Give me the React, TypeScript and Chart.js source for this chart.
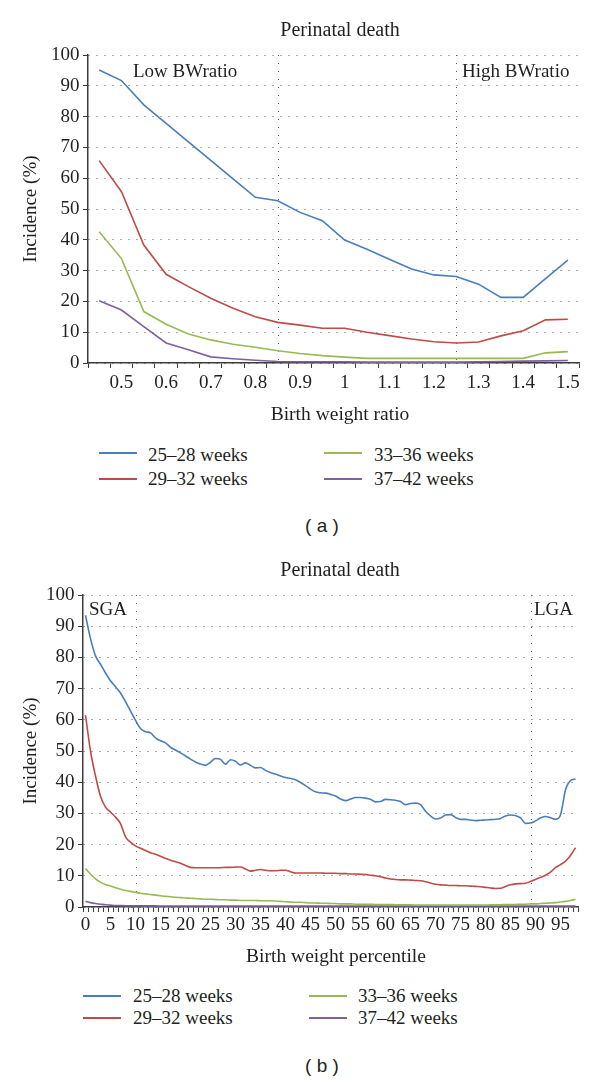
import React, { useEffect, useRef } from "react";
import { Chart, registerables } from "chart.js";

Chart.register(...registerables);

// ---------- data ----------
const seriesNames = ["25–28 weeks", "29–32 weeks", "33–36 weeks", "37–42 weeks"];
const seriesColors = ["#4a7ebb", "#be4b48", "#98b954", "#7d60a0"];

// (a) birth weight ratio
const ratioLabels = ["0.45", "0.5", "0.55", "0.6", "0.65", "0.7", "0.75", "0.8", "0.85", "0.9", "0.95", "1", "1.05", "1.1", "1.15", "1.2", "1.25", "1.3", "1.35", "1.4", "1.45", "1.5"];
const ratioWeeks25to28 = [95.1, 91.7, 83.8, 77.8, 71.8, 65.8, 59.8, 53.8, 52.7, 48.9, 46.2, 39.9, 36.9, 33.7, 30.5, 28.6, 28.1, 25.6, 21.3, 21.3, 27.4, 33.4];
const ratioWeeks29to32 = [65.7, 55.6, 38.3, 28.8, 24.8, 21.0, 17.8, 15.0, 13.2, 12.3, 11.3, 11.3, 10.0, 8.9, 7.8, 6.9, 6.5, 6.8, 8.8, 10.5, 14.0, 14.2];
const ratioWeeks33to36 = [42.6, 33.9, 16.7, 12.6, 9.4, 7.5, 6.1, 5.1, 4.0, 3.1, 2.4, 1.9, 1.5, 1.5, 1.5, 1.5, 1.5, 1.5, 1.5, 1.5, 3.3, 3.7];
const ratioWeeks37to42 = [20.2, 17.2, 11.8, 6.5, 4.3, 2.0, 1.4, 0.9, 0.5, 0.4, 0.4, 0.4, 0.3, 0.3, 0.3, 0.3, 0.3, 0.4, 0.5, 0.6, 0.7, 0.8];
const ratioTickLabels = ["0.5", "0.6", "0.7", "0.8", "0.9", "1", "1.1", "1.2", "1.3", "1.4", "1.5"];
const ratioMarkers = ["0.85", "1.25"];

// (b) birth weight percentile
const percentileLabels = [
  "0", "1", "2", "3", "4", "5", "6", "7", "8", "9",
  "10", "11", "12", "13", "14", "15", "16", "17", "18", "19",
  "20", "21", "22", "23", "24", "25", "26", "27", "28", "29",
  "30", "31", "32", "33", "34", "35", "36", "37", "38", "39",
  "40", "41", "42", "43", "44", "45", "46", "47", "48", "49",
  "50", "51", "52", "53", "54", "55", "56", "57", "58", "59",
  "60", "61", "62", "63", "64", "65", "66", "67", "68", "69",
  "70", "71", "72", "73", "74", "75", "76", "77", "78", "79",
  "80", "81", "82", "83", "84", "85", "86", "87", "88", "89",
  "90", "91", "92", "93", "94", "95", "96", "97", "98",
];
const pctWeeks25to28 = [
  93.5, 86, 80.5, 77.8, 75, 72.5, 70.6, 68.6, 65.8, 62.8,
  59.8, 57.2, 56.2, 55.8, 54.2, 53.3, 52.6, 51.2, 50.3, 49.4,
  48.4, 47.4, 46.5, 45.8, 45.4, 46.4, 47.6, 47.3, 45.8, 47.2,
  46.7, 45.5, 46.2, 45.4, 44.6, 44.7, 43.8, 43.1, 42.6, 42,
  41.5, 41.2, 40.8, 39.9, 38.9, 37.8, 36.9, 36.6, 36.5, 36.1,
  35.6, 34.6, 34.1, 34.6, 35.1, 35.1, 34.9, 34.5, 33.7, 33.8,
  34.5, 34.4, 34.2, 33.8, 32.8, 33.2, 33.3, 32.8, 30.7, 29.2,
  28.2, 28.5, 29.5, 29.6, 28.7, 28.1, 28.1, 27.9, 27.7, 27.8,
  27.9, 28, 28.1, 28.4, 29.2, 29.5, 29.3, 28.6, 26.8, 26.9,
  27.6, 28.5, 29, 28.6, 28.1, 29.5, 37.5, 40.5, 41,
];
const pctWeeks29to32 = [
  61.5, 50, 42, 35.5, 32, 30.4, 28.8, 26.7, 22.5, 20.8,
  19.6, 18.8, 18.1, 17.4, 16.9, 16.3, 15.6, 15, 14.5, 14,
  13.3, 12.7, 12.6, 12.6, 12.6, 12.6, 12.6, 12.6, 12.7, 12.7,
  12.8, 12.8, 12.2, 11.5, 11.8, 12, 11.8, 11.6, 11.6, 11.8,
  11.8, 11.3, 10.9, 10.9, 10.9, 10.9, 10.9, 10.9, 10.8, 10.8,
  10.8, 10.7, 10.7, 10.6, 10.6, 10.5, 10.4, 10.2, 10, 9.7,
  9.3, 9, 8.8, 8.7, 8.7, 8.6, 8.5, 8.4, 8.1, 7.7,
  7.3, 7.1, 7, 6.9, 6.9, 6.8, 6.8, 6.7, 6.6, 6.5,
  6.3, 6.1, 5.95, 6.0, 6.6, 7.1, 7.4, 7.5, 7.6, 8.2,
  8.8, 9.5, 10.2, 11.2, 12.6, 13.6, 14.7, 16.5, 19,
];
const pctWeeks33to36 = [
  12.3, 10.5, 9, 7.9, 7.2, 6.7, 6.2, 5.7, 5.3, 5,
  4.7, 4.4, 4.2, 4, 3.8, 3.6, 3.4, 3.3, 3.1, 3,
  2.9, 2.8, 2.7, 2.6, 2.5, 2.5, 2.4, 2.3, 2.3, 2.2,
  2.2, 2.1, 2.1, 2.1, 2.1, 2, 2, 2, 1.9, 1.8,
  1.7, 1.6, 1.5, 1.5, 1.4, 1.3, 1.3, 1.2, 1.2, 1.1,
  1.1, 1, 1, 1, 0.9, 0.9, 0.9, 0.9, 0.8, 0.8,
  0.8, 0.8, 0.7, 0.7, 0.7, 0.7, 0.6, 0.6, 0.6, 0.6,
  0.6, 0.6, 0.6, 0.6, 0.6, 0.6, 0.6, 0.6, 0.6, 0.6,
  0.6, 0.7, 0.7, 0.7, 0.8, 0.8, 0.8, 0.9, 0.9, 1,
  1, 1.1, 1.2, 1.3, 1.4, 1.6, 1.8, 2.1, 2.5,
];
const pctWeeks37to42 = [
  1.8, 1.4, 1.1, 0.9, 0.7, 0.6, 0.5, 0.5, 0.4, 0.4,
  0.4, 0.4, 0.35, 0.35, 0.35, 0.3, 0.3, 0.3, 0.3, 0.3,
  0.3, 0.3, 0.3, 0.3, 0.3, 0.3, 0.3, 0.3, 0.3, 0.3,
  0.3, 0.3, 0.3, 0.3, 0.3, 0.3, 0.3, 0.3, 0.3, 0.3,
  0.3, 0.3, 0.3, 0.3, 0.3, 0.3, 0.3, 0.3, 0.3, 0.3,
  0.3, 0.3, 0.3, 0.3, 0.3, 0.3, 0.3, 0.3, 0.3, 0.3,
  0.3, 0.3, 0.3, 0.3, 0.3, 0.3, 0.3, 0.3, 0.3, 0.3,
  0.3, 0.3, 0.3, 0.3, 0.3, 0.3, 0.3, 0.3, 0.3, 0.3,
  0.3, 0.3, 0.3, 0.3, 0.3, 0.3, 0.3, 0.3, 0.3, 0.3,
  0.3, 0.3, 0.3, 0.3, 0.3, 0.3, 0.3, 0.3, 0.3,
];
const percentileTickLabels = ["0", "5", "10", "15", "20", "25", "30", "35", "40", "45", "50", "55", "60", "65", "70", "75", "80", "85", "90", "95"];
const percentileMarkers = ["10", "89"];

const yTicks = [0, 10, 20, 30, 40, 50, 60, 70, 80, 90, 100];

// ---------- styling ----------
const SERIF = "'Liberation Serif', 'Times New Roman', serif";
const SANS = "'Liberation Sans', Arial, sans-serif";
const INK = "#231f20";
const AXIS = "#3c3c3c";
const DOTS = "#5a5a5a";
const DOT_DASH = [1, 7];

type Note = { text: string; x: number; y: number };
type PanelCfg = {
  labels: string[];
  series: number[][];
  tickLabels: string[];
  markers: string[];
  smooth: boolean;
  yWidth: number;
  padding: { top: number; right: number; bottom: number };
  xTickPadding: number;
  title: Note;
  xTitle: Note;
  notes: Note[];
};

function decorPlugin(cfg: PanelCfg) {
  return {
    id: "decor",
    beforeDatasetsDraw(chart: any) {
      const { ctx, chartArea, scales } = chart;
      ctx.save();
      ctx.strokeStyle = DOTS;
      ctx.lineWidth = 1;
      ctx.setLineDash(DOT_DASH);
      cfg.markers.forEach((m) => {
        const idx = cfg.labels.indexOf(m);
        const x = Math.round(scales.x.getPixelForValue(idx)) + 0.5;
        ctx.beginPath();
        ctx.moveTo(x, chartArea.top);
        ctx.lineTo(x, chartArea.bottom);
        ctx.stroke();
      });
      ctx.restore();
    },
    afterDraw(chart: any) {
      const { ctx } = chart;
      ctx.save();
      ctx.fillStyle = INK;
      ctx.textBaseline = "alphabetic";
      ctx.font = `20px ${SERIF}`;
      ctx.textAlign = "center";
      ctx.fillText(cfg.title.text, cfg.title.x, cfg.title.y);
      ctx.font = `19.5px ${SERIF}`;
      ctx.fillText(cfg.xTitle.text, cfg.xTitle.x, cfg.xTitle.y);
      ctx.font = `19px ${SERIF}`;
      ctx.textAlign = "left";
      cfg.notes.forEach((n) => ctx.fillText(n.text, n.x, n.y));
      ctx.restore();
    },
  };
}

function makeChart(canvas: HTMLCanvasElement, cfg: PanelCfg) {
  const tickFont = { family: SERIF, size: 19 };
  return new Chart(canvas, {
    type: "line",
    data: {
      labels: cfg.labels,
      datasets: seriesNames.map((name, k) => ({
        label: name,
        data: cfg.series[k],
        borderColor: seriesColors[k],
        backgroundColor: seriesColors[k],
        borderWidth: 1.6,
        pointRadius: 0,
        tension: 0,
        ...(cfg.smooth ? { cubicInterpolationMode: "monotone" as const } : {}),
        fill: false,
      })),
    },
    options: {
      responsive: false,
      animation: false,
      events: [],
      layout: { padding: { left: 0, top: cfg.padding.top, right: cfg.padding.right, bottom: cfg.padding.bottom } },
      plugins: {
        legend: { display: false },
        title: { display: false },
        tooltip: { enabled: false },
      },
      scales: {
        x: {
          type: "category",
          offset: true,
          grid: {
            offset: true,
            drawOnChartArea: false,
            drawTicks: true,
            tickLength: 5,
            tickColor: AXIS,
            tickWidth: 1,
          },
          border: { color: AXIS, width: 1.5 },
          ticks: {
            autoSkip: false,
            maxRotation: 0,
            minRotation: 0,
            padding: cfg.xTickPadding,
            color: INK,
            font: tickFont,
            callback: function (this: any, value: any) {
              const lbl = this.getLabelForValue(value);
              return cfg.tickLabels.includes(lbl) ? lbl : "";
            },
          },
          afterFit: (s: any) => {
            s.height = 40;
          },
        },
        y: {
          min: 0,
          max: 100,
          afterBuildTicks: (s: any) => {
            s.ticks = yTicks.map((v) => ({ value: v }));
          },
          ticks: { padding: 3.5, color: INK, font: tickFont },
          grid: {
            color: DOTS,
            lineWidth: 1,
            drawTicks: true,
            tickLength: 5,
            tickColor: AXIS,
            tickWidth: 1,
            tickBorderDash: [],
          },
          border: { color: AXIS, width: 1.5, dash: DOT_DASH },
          title: {
            display: true,
            text: "Incidence (%)",
            color: INK,
            font: { family: SERIF, size: 19 },
            padding: { top: 19.6, bottom: 0 },
          },
          afterFit: (s: any) => {
            s.width = cfg.yWidth;
          },
        },
      },
    } as any,
    plugins: [decorPlugin(cfg)],
  });
}

function Legend({ lines, texts, col2Line, col2Text, rows, baselines }: { lines: number; texts: number; col2Line: number; col2Text: number; rows: number[]; baselines: number[] }) {
  const items = [
    { k: 0, col: 0, row: 0 },
    { k: 1, col: 0, row: 1 },
    { k: 2, col: 1, row: 0 },
    { k: 3, col: 1, row: 1 },
  ];
  return (
    <>
      {items.map(({ k, col, row }) => (
        <React.Fragment key={k}>
          <div
            style={{
              position: "absolute",
              left: col === 0 ? lines : col2Line,
              top: rows[row] - 1,
              width: 38,
              height: 2,
              background: seriesColors[k],
            }}
          />
          <div
            style={{
              position: "absolute",
              left: col === 0 ? texts : col2Text,
              top: baselines[row] - 17.4,
              height: 22,
              fontFamily: SERIF,
              fontSize: 19,
              lineHeight: "22px",
              color: INK,
              whiteSpace: "nowrap",
            }}
          >
            {seriesNames[k]}
          </div>
        </React.Fragment>
      ))}
    </>
  );
}

function Caption({ text, baseline }: { text: string; baseline: number }) {
  return (
    <div
      style={{
        position: "absolute",
        left: 222,
        width: 200,
        textAlign: "center",
        top: baseline - 17.6,
        height: 22,
        fontFamily: SANS,
        fontSize: 19,
        lineHeight: "22px",
        color: INK,
        whiteSpace: "pre",
      }}
    >
      {text}
    </div>
  );
}

export default function App() {
  const topRef = useRef<HTMLCanvasElement>(null);
  const botRef = useRef<HTMLCanvasElement>(null);

  useEffect(() => {
    const c1 = makeChart(topRef.current!, {
      labels: ratioLabels,
      series: [ratioWeeks25to28, ratioWeeks29to32, ratioWeeks33to36, ratioWeeks37to42],
      tickLabels: ratioTickLabels,
      markers: ratioMarkers,
      smooth: false,
      yWidth: 88,
      padding: { top: 55, right: 21, bottom: 37 },
      xTickPadding: 4,
      title: { text: "Perinatal death", x: 340, y: 35.5 },
      xTitle: { text: "Birth weight ratio", x: 340, y: 420 },
      notes: [
        { text: "Low BWratio", x: 133, y: 77 },
        { text: "High BWratio", x: 462, y: 77 },
      ],
    });
    const c2 = makeChart(botRef.current!, {
      labels: percentileLabels,
      series: [pctWeeks25to28, pctWeeks29to32, pctWeeks33to36, pctWeeks37to42],
      tickLabels: percentileTickLabels,
      markers: percentileMarkers,
      smooth: true,
      yWidth: 83,
      padding: { top: 50, right: 22, bottom: 28 },
      xTickPadding: 2,
      title: { text: "Perinatal death", x: 340, y: 30.5 },
      xTitle: { text: "Birth weight percentile", x: 336, y: 416.5 },
      notes: [
        { text: "SGA", x: 89, y: 70 },
        { text: "LGA", x: 534, y: 70 },
      ],
    });
    return () => {
      c1.destroy();
      c2.destroy();
    };
  }, []);

  return (
    <div style={{ position: "absolute", left: 0, top: 0, width: 600, height: 1084, overflow: "hidden", background: "#fff" }}>
      <canvas ref={topRef} width={600} height={440} style={{ position: "absolute", left: 0, top: 0, width: 600, height: 440 }} />
      <Legend lines={99} texts={148} col2Line={324} col2Text={374} rows={[453.3, 479]} baselines={[461, 485.5]} />
      <Caption text="( a )" baseline={532.8} />
      <canvas ref={botRef} width={600} height={430} style={{ position: "absolute", left: 0, top: 545, width: 600, height: 430 }} />
      <Legend lines={83} texts={133} col2Line={309} col2Text={358} rows={[996, 1018]} baselines={[1002, 1024]} />
      <Caption text="( b )" baseline={1072.7} />
    </div>
  );
}
